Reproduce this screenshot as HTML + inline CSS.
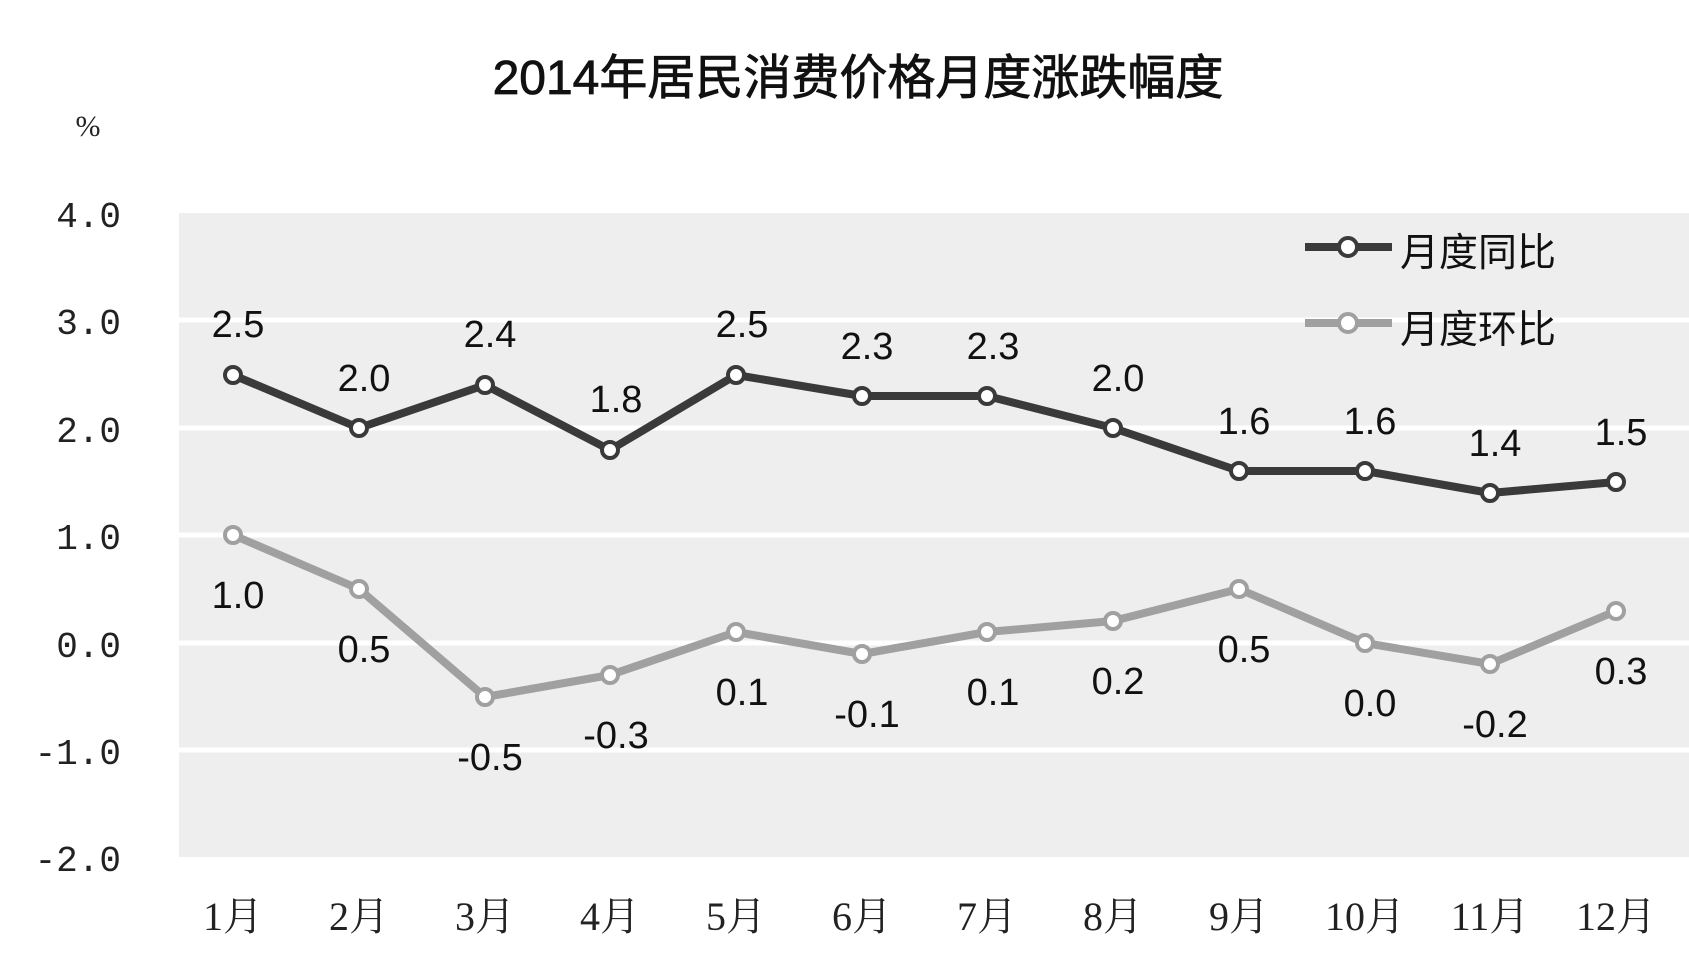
<!DOCTYPE html>
<html><head><meta charset="utf-8"><style>body{margin:0;background:#fff}</style></head><body>
<svg width="1689" height="966" viewBox="0 0 1689 966" xmlns="http://www.w3.org/2000/svg">
<rect width="1689" height="966" fill="#fff"/>
<text x="858" y="94" text-anchor="middle" font-family="Liberation Sans, Noto Sans CJK SC, sans-serif" font-size="48" fill="#111" stroke="#111" stroke-width="0.8">2014年居民消费价格月度涨跌幅度</text>
<text x="88" y="136" text-anchor="middle" font-family="Liberation Serif, serif" font-size="30" fill="#222">%</text>
<rect x="179" y="213" width="1510" height="644" fill="#eeeeee"/>
<g stroke="#fff" stroke-width="5">
<line x1="179" x2="1689" y1="320" y2="320"/><line x1="179" x2="1689" y1="428" y2="428"/>
<line x1="179" x2="1689" y1="535" y2="535"/><line x1="179" x2="1689" y1="643" y2="643"/>
<line x1="179" x2="1689" y1="750" y2="750"/>
</g>
<g font-family="Liberation Mono, monospace" font-size="36" fill="#222" text-anchor="end">
<text x="121" y="227">4.0</text><text x="121" y="334">3.0</text><text x="121" y="442">2.0</text>
<text x="121" y="549">1.0</text><text x="121" y="657">0.0</text><text x="121" y="764">-1.0</text><text x="121" y="871">-2.0</text>
</g>
<g font-family="Liberation Serif, Noto Serif CJK SC, serif" font-size="40" fill="#222" text-anchor="middle">
<text x="233" y="930">1月</text><text x="359" y="930">2月</text><text x="485" y="930">3月</text><text x="610" y="930">4月</text><text x="736" y="930">5月</text><text x="862" y="930">6月</text><text x="987" y="930">7月</text><text x="1113" y="930">8月</text><text x="1239" y="930">9月</text><text x="1365" y="930">10月</text><text x="1490" y="930">11月</text><text x="1616" y="930">12月</text>
</g>
<polyline fill="none" stroke="#3a3a3a" stroke-width="8" stroke-linejoin="round" points="233,375 359,428 485,385 610,450 736,375 862,396 987,396 1113,428 1239,471 1365,471 1490,493 1616,482"/>
<polyline fill="none" stroke="#a0a0a0" stroke-width="8" stroke-linejoin="round" points="233,535 359,589 485,697 610,675 736,632 862,654 987,632 1113,621 1239,589 1365,643 1490,664 1616,611"/>
<g fill="#fff" stroke="#3a3a3a" stroke-width="4">
<circle cx="233" cy="375" r="8"/><circle cx="359" cy="428" r="8"/><circle cx="485" cy="385" r="8"/><circle cx="610" cy="450" r="8"/><circle cx="736" cy="375" r="8"/><circle cx="862" cy="396" r="8"/><circle cx="987" cy="396" r="8"/><circle cx="1113" cy="428" r="8"/><circle cx="1239" cy="471" r="8"/><circle cx="1365" cy="471" r="8"/><circle cx="1490" cy="493" r="8"/><circle cx="1616" cy="482" r="8"/>
</g>
<g fill="#fff" stroke="#a0a0a0" stroke-width="4">
<circle cx="233" cy="535" r="8"/><circle cx="359" cy="589" r="8"/><circle cx="485" cy="697" r="8"/><circle cx="610" cy="675" r="8"/><circle cx="736" cy="632" r="8"/><circle cx="862" cy="654" r="8"/><circle cx="987" cy="632" r="8"/><circle cx="1113" cy="621" r="8"/><circle cx="1239" cy="589" r="8"/><circle cx="1365" cy="643" r="8"/><circle cx="1490" cy="664" r="8"/><circle cx="1616" cy="611" r="8"/>
</g>
<g font-family="Liberation Sans, sans-serif" font-size="38" fill="#111" text-anchor="middle">
<text x="238" y="337">2.5</text><text x="364" y="391">2.0</text><text x="490" y="347">2.4</text><text x="616" y="412">1.8</text><text x="742" y="337">2.5</text><text x="867" y="359">2.3</text><text x="993" y="359">2.3</text><text x="1118" y="391">2.0</text><text x="1244" y="434">1.6</text><text x="1370" y="434">1.6</text><text x="1495" y="456">1.4</text><text x="1621" y="445">1.5</text>
<text x="238" y="608">1.0</text><text x="364" y="662">0.5</text><text x="490" y="770">-0.5</text><text x="616" y="748">-0.3</text><text x="742" y="705">0.1</text><text x="867" y="727">-0.1</text><text x="993" y="705">0.1</text><text x="1118" y="694">0.2</text><text x="1244" y="662">0.5</text><text x="1370" y="716">0.0</text><text x="1495" y="737">-0.2</text><text x="1621" y="684">0.3</text>
</g>
<line x1="1305" x2="1392" y1="247" y2="247" stroke="#3a3a3a" stroke-width="8"/>
<circle cx="1348" cy="247" r="9" fill="#fff" stroke="#3a3a3a" stroke-width="4"/>
<line x1="1305" x2="1392" y1="323" y2="323" stroke="#a0a0a0" stroke-width="8"/>
<circle cx="1348" cy="323" r="9" fill="#fff" stroke="#a0a0a0" stroke-width="4"/>
<g font-family="Liberation Sans, Noto Sans CJK SC, sans-serif" font-size="39" fill="#111">
<text x="1400" y="266">月度同比</text><text x="1400" y="343">月度环比</text>
</g>
</svg>
</body></html>
